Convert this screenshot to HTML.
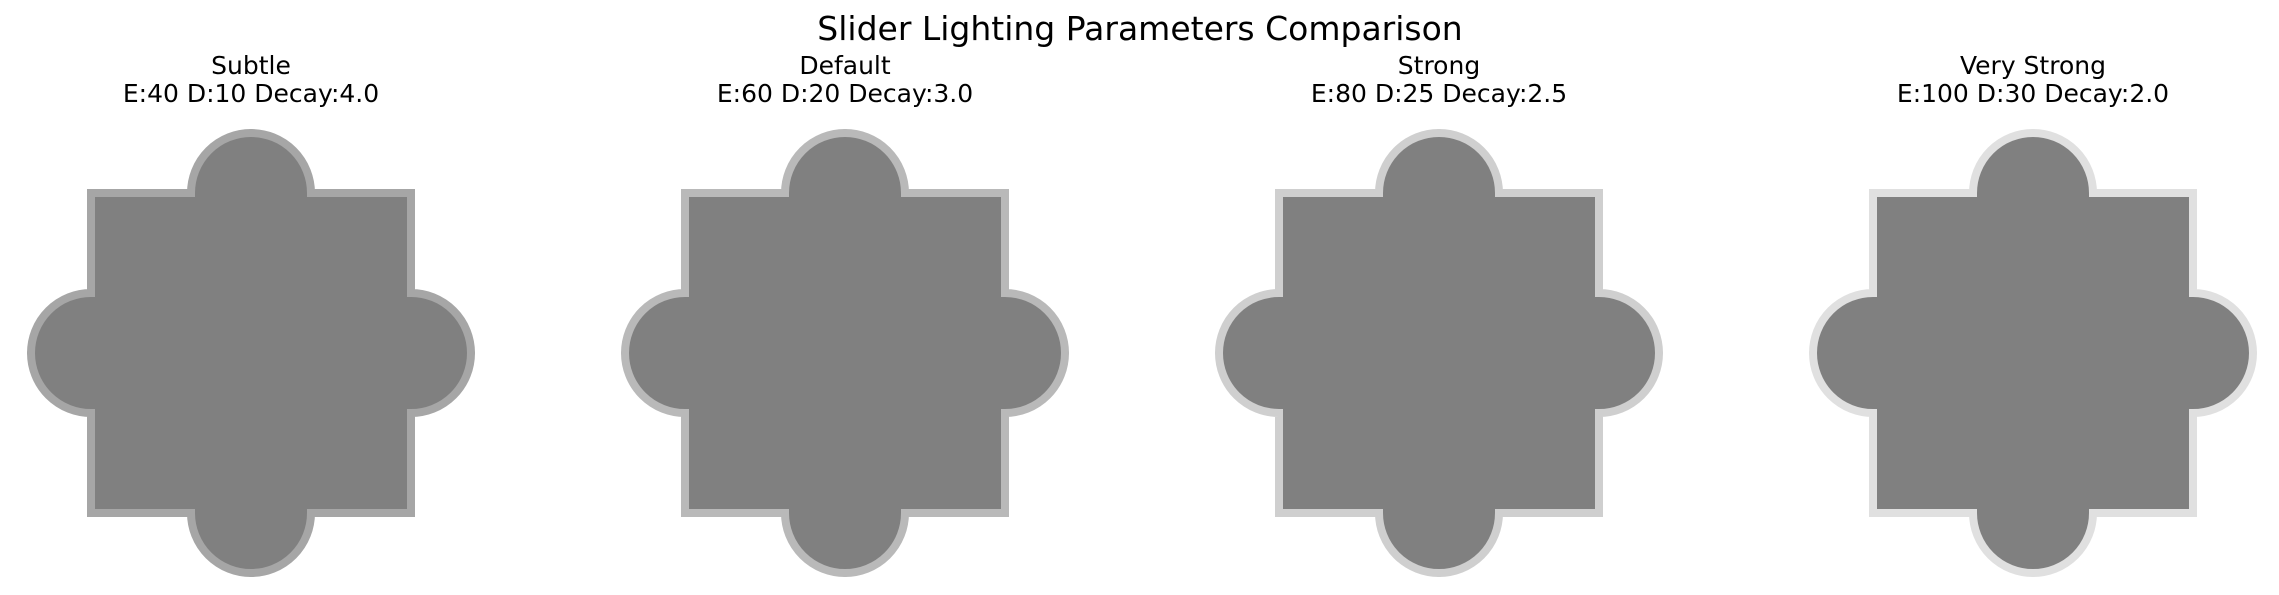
<!DOCTYPE html>
<html><head><meta charset="utf-8"><style>
html,body{margin:0;padding:0;background:#fff;}
svg{display:block;font-family:"DejaVu Sans","Liberation Sans",sans-serif;}
</style></head><body>
<svg id="chart" width="2279" height="595" viewBox="0 0 2279 595" xmlns="http://www.w3.org/2000/svg">
<text x="1140" y="40" text-anchor="middle" font-size="33" fill="#000">Slider Lighting Parameters Comparison</text>
<g id="panels"></g>
</svg>
<script>
const presetNames = ["Subtle", "Default", "Strong", "Very Strong"];
const emissionValues = [40, 60, 80, 100];
const diffuseValues = [10, 20, 25, 30];
const decayValues = [4.0, 3.0, 2.5, 2.0];
const borderShades = ["#a6a6a6", "#b9b9b9", "#cfcfcf", "#e0e0e0"];

const NS = "http://www.w3.org/2000/svg";
const g = document.getElementById("panels");
const panelX = i => 251 + i * 594;
const cy = 353, half = 156, r = 56, bw = 8;

function shapePath(cx, h, rr) {
  return `M${cx-h},${cy-h} L${cx-rr},${cy-h} A${rr},${rr} 0 0 1 ${cx+rr},${cy-h} L${cx+h},${cy-h} L${cx+h},${cy-rr} A${rr},${rr} 0 0 1 ${cx+h},${cy+rr} L${cx+h},${cy+h} L${cx+rr},${cy+h} A${rr},${rr} 0 0 1 ${cx-rr},${cy+h} L${cx-h},${cy+h} L${cx-h},${cy+rr} A${rr},${rr} 0 0 1 ${cx-h},${cy-rr} Z`;
}

presetNames.forEach((name, i) => {
  const cx = panelX(i);
  const grp = document.createElementNS(NS, "g");
  
  

  const outer = document.createElementNS(NS, "path");
  
  
  outer.setAttribute("d", shapePath(cx, half + bw/2, r + bw/2));
  outer.setAttribute("fill", "#808080");
  outer.setAttribute("stroke", borderShades[i]);
  outer.setAttribute("stroke-width", bw);
  grp.appendChild(outer);

  const ext = half + r + bw + 4;
  [[cx, cy - ext, cx, cy - ext + 6], [cx, cy + ext, cx, cy + ext - 6],
   [cx - ext, cy, cx - ext + 6, cy], [cx + ext, cy, cx + ext - 6, cy]].forEach(t => {
    const ln = document.createElementNS(NS, "line");
    
    
    ln.setAttribute("x1", t[0]); ln.setAttribute("y1", t[1]);
    ln.setAttribute("x2", t[2]); ln.setAttribute("y2", t[3]);
    ln.setAttribute("stroke", borderShades[i]); ln.setAttribute("stroke-width", 3);
    grp.appendChild(ln);
  });

  const t1 = document.createElementNS(NS, "text");
  
  
  t1.setAttribute("x", cx); t1.setAttribute("y", 74);
  t1.setAttribute("text-anchor", "middle"); t1.setAttribute("font-size", "25");
  t1.textContent = name;
  grp.appendChild(t1);

  const t2 = document.createElementNS(NS, "text");
  
  
  t2.setAttribute("x", cx); t2.setAttribute("y", 102);
  t2.setAttribute("text-anchor", "middle"); t2.setAttribute("font-size", "25");
  t2.textContent = `E:${emissionValues[i]} D:${diffuseValues[i]} Decay:${decayValues[i].toFixed(1)}`;
  grp.appendChild(t2);

  g.appendChild(grp);
});
</script>
</body></html>
